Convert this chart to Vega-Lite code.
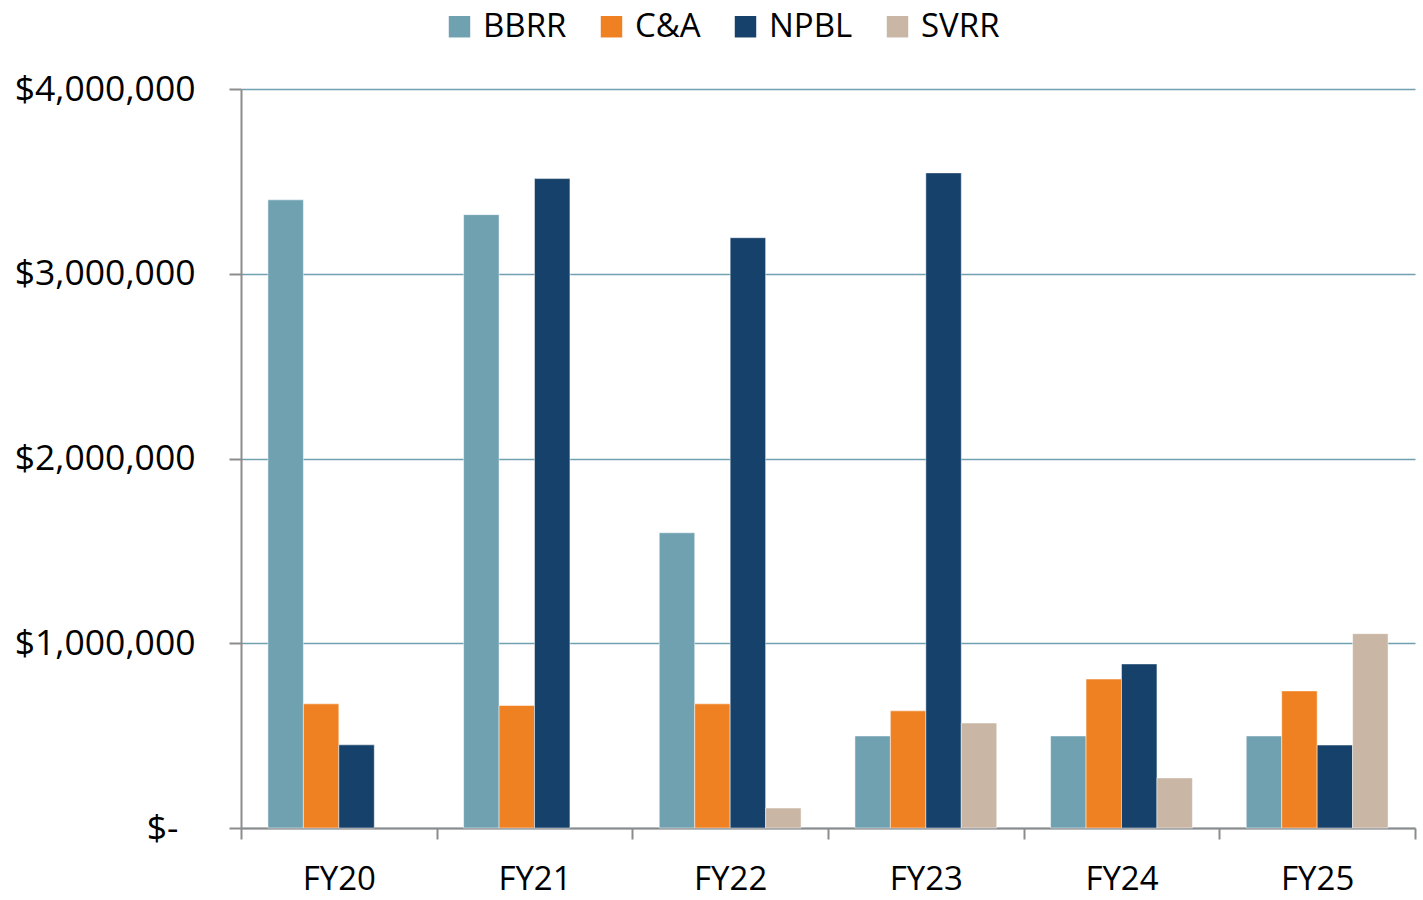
{
  "$schema": "https://vega.github.io/schema/vega-lite/v6.json",
  "autosize": "none",
  "width": 1174,
  "height": 739,
  "padding": {"left": 241, "top": 89, "right": 8, "bottom": 72},
  "background": "white",
  "config": {
    "font": "Open Sans",
    "view": {"stroke": null},
    "axis": {"labelFont": "Open Sans", "labelColor": "#000000", "labelFontSize": 34, "labelLimit": 400}
  },
  "data": {
    "values": [
      {"year": "FY20", "program": "BBRR", "amount": 3400000},
      {"year": "FY20", "program": "C&A", "amount": 672000},
      {"year": "FY20", "program": "NPBL", "amount": 450000},
      {"year": "FY21", "program": "BBRR", "amount": 3320000},
      {"year": "FY21", "program": "C&A", "amount": 663000},
      {"year": "FY21", "program": "NPBL", "amount": 3515000},
      {"year": "FY22", "program": "BBRR", "amount": 1598000},
      {"year": "FY22", "program": "C&A", "amount": 672000},
      {"year": "FY22", "program": "NPBL", "amount": 3195000},
      {"year": "FY22", "program": "SVRR", "amount": 108000},
      {"year": "FY23", "program": "BBRR", "amount": 498000},
      {"year": "FY23", "program": "C&A", "amount": 634000},
      {"year": "FY23", "program": "NPBL", "amount": 3546000},
      {"year": "FY23", "program": "SVRR", "amount": 568000},
      {"year": "FY24", "program": "BBRR", "amount": 498000},
      {"year": "FY24", "program": "C&A", "amount": 806000},
      {"year": "FY24", "program": "NPBL", "amount": 888000},
      {"year": "FY24", "program": "SVRR", "amount": 271000},
      {"year": "FY25", "program": "BBRR", "amount": 498000},
      {"year": "FY25", "program": "C&A", "amount": 742000},
      {"year": "FY25", "program": "NPBL", "amount": 449000},
      {"year": "FY25", "program": "SVRR", "amount": 1052000}
    ]
  },
  "mark": {"type": "bar", "stroke": "#ffffff", "strokeWidth": 0.8, "strokeOpacity": 0.6},
  "encoding": {
    "x": {
      "field": "year",
      "type": "nominal",
      "sort": ["FY20", "FY21", "FY22", "FY23", "FY24", "FY25"],
      "scale": {"paddingInner": 0, "paddingOuter": 0},
      "axis": {
        "title": null,
        "labelAngle": 0,
        "tickBand": "extent",
        "tickSize": 11,
        "tickColor": "#8c8c8c",
        "tickWidth": 2,
        "domainColor": "#8c8c8c",
        "domainWidth": 2,
        "labelFontSize": 33,
        "labelPadding": 24,
        "grid": false
      }
    },
    "xOffset": {
      "field": "program",
      "type": "nominal",
      "sort": ["BBRR", "C&A", "NPBL", "SVRR"],
      "scale": {"paddingInner": 0, "paddingOuter": 0.76}
    },
    "y": {
      "field": "amount",
      "type": "quantitative",
      "scale": {"domain": [0, 4000000], "nice": false},
      "axis": {
        "title": null,
        "values": [0, 1000000, 2000000, 3000000, 4000000],
        "labelExpr": "datum.value == 0 ? '$-' : '$' + format(datum.value, ',')",
        "labelFontSize": 35.5,
        "labelLimit": 400,
        "tickSize": 12,
        "tickColor": "#8c8c8c",
        "tickWidth": 2,
        "domainColor": "#8c8c8c",
        "domainWidth": 2,
        "labelPadding": {"condition": {"test": "datum.value == 0", "value": 51}, "value": 34},
        "grid": true,
        "gridColor": "#6fa1b1",
        "gridWidth": 1.5
      }
    },
    "color": {
      "field": "program",
      "type": "nominal",
      "sort": ["BBRR", "C&A", "NPBL", "SVRR"],
      "scale": {
        "domain": ["BBRR", "C&A", "NPBL", "SVRR"],
        "range": ["#6fa1b1", "#f08122", "#16416a", "#c9b6a5"]
      },
      "legend": {
        "title": null,
        "orient": "none",
        "direction": "horizontal",
        "legendX": 202,
        "legendY": -79,
        "symbolType": "square",
        "symbolSize": 460,
        "symbolStrokeWidth": 0,
        "labelFontSize": 33,
        "labelFont": "Open Sans",
        "labelColor": "#000000",
        "labelOffset": 7,
        "columnPadding": 28
      }
    }
  }
}
